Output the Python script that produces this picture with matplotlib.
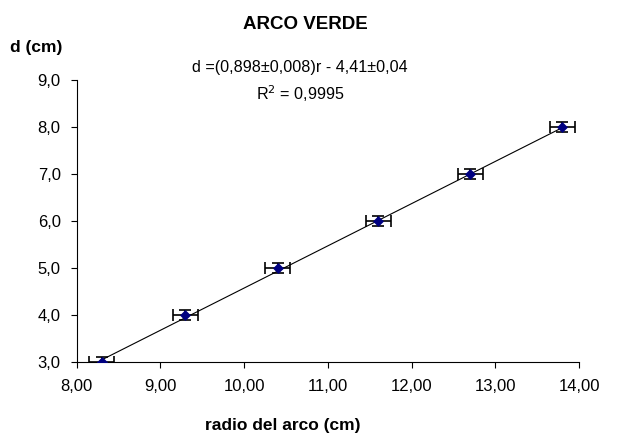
import matplotlib.pyplot as plt
import numpy as np
from matplotlib.ticker import FuncFormatter

plt.rcParams['font.family'] = ['Liberation Sans', 'DejaVu Sans']

# datos
radio = [8.3, 9.3, 10.4, 11.6, 12.7, 13.8]
d = [3.0, 4.0, 5.0, 6.0, 7.0, 8.0]
err_r = [0.15, 0.15, 0.15, 0.15, 0.15, 0.15]
err_d = [0.1, 0.1, 0.1, 0.1, 0.1, 0.1]
pendiente = 0.898
ordenada = -4.41

x_ticks = [8, 9, 10, 11, 12, 13, 14]
y_ticks = [3, 4, 5, 6, 7, 8, 9]

fig = plt.figure(figsize=(6.18, 4.36), dpi=100)
ax = fig.add_axes([0.124, 0.170, 0.813, 0.647])

# recta de ajuste
r_arr = np.array(radio)
ax.plot(r_arr, pendiente * r_arr + ordenada, color="black", linewidth=0.8, zorder=2)
ax.errorbar(radio, d, xerr=err_r, yerr=err_d, fmt="none", ecolor="black",
            elinewidth=1.2, capsize=4.3, capthick=1.2, zorder=3)
ax.plot(radio, d, linestyle="none", marker="D", markersize=4.6,
        color="#000080", markeredgewidth=0.5, zorder=4)

ax.set_xlim(8, 14)
ax.set_ylim(3, 9)
ax.set_xticks(x_ticks)
ax.set_yticks(y_ticks)
ax.xaxis.set_major_formatter(FuncFormatter(lambda v, p: f"{v:.2f}".replace(".", ",")))
ax.yaxis.set_major_formatter(FuncFormatter(lambda v, p: f"{v:.1f}".replace(".", ",")))
ax.tick_params(direction="out", length=4.5, width=0.8, labelsize=12)
ax.tick_params(axis="x", pad=8)
ax.tick_params(axis="y", pad=7)

ax.spines["top"].set_visible(False)
ax.spines["right"].set_visible(False)
for s in ["left", "bottom"]:
    ax.spines[s].set_linewidth(0.8)

fig.text(305 / 618, 1 - 29 / 436, "ARCO VERDE", fontsize=13.5, fontweight="bold",
         ha="center", va="baseline")
fig.text(36 / 618, 1 - 52 / 436, "d (cm)", fontsize=12.5, fontweight="bold",
         ha="center", va="baseline")
fig.text(300 / 618, 1 - 72 / 436, "d =(0,898±0,008)r - 4,41±0,04",
         fontsize=11.6, ha="center", va="baseline")
fig.text(300 / 618, 1 - 100 / 436, "R$^2$ = 0,9995",
         fontsize=11.6, ha="center", va="baseline")
fig.text(283 / 618, 1 - 430 / 436, "radio del arco (cm)", fontsize=12.5,
         fontweight="bold", ha="center", va="baseline")

fig.savefig("out.png", dpi=100)
